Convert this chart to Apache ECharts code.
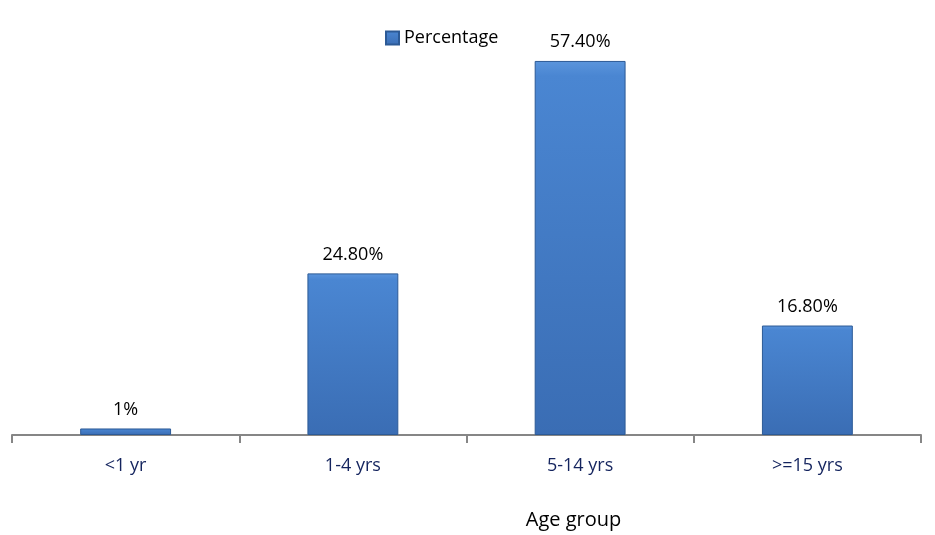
<!DOCTYPE html>
<html>
<head>
<meta charset="utf-8">
<script src="https://cdn.jsdelivr.net/npm/echarts@6/dist/echarts.min.js"></script>
<style>
  html, body { margin: 0; padding: 0; background: #fff; }
  #chart { width: 935px; height: 535px; }
</style>
</head>
<body>
<div id="chart"></div>
<script>
var categories = ['<1 yr', '1-4 yrs', '5-14 yrs', '>=15 yrs'];
var percentValues = [1, 24.8, 57.4, 16.8];
var valueLabels = ['1%', '24.80%', '57.40%', '16.80%'];

var chart = echarts.init(document.getElementById('chart'));

var barColor = new echarts.graphic.LinearGradient(0, 0, 0, 1, [
    { offset: 0, color: '#5b95dc' },
    { offset: 0.04, color: '#4a86d2' },
    { offset: 1, color: '#3a6db4' }
]);

var option = {
    backgroundColor: '#ffffff',
    textStyle: { fontFamily: 'Open Sans, Liberation Sans, sans-serif' },
    legend: {
        left: 380,
        top: 24,
        itemWidth: 13,
        itemHeight: 13,
        itemGap: 6,
        textStyle: { fontSize: 18, color: '#000' },
        data: [{ name: 'Percentage', icon: 'rect' }]
    },
    grid: {
        left: 12,
        right: 14,
        top: 44,
        bottom: 97
    },
    xAxis: {
        type: 'category',
        data: categories,
        name: 'Age group',
        nameLocation: 'middle',
        nameGap: 75,
        nameTextStyle: { fontSize: 20, color: '#000', padding: [0, 0, 0, 214] },
        axisLine: { lineStyle: { color: '#868686', width: 2 } },
        axisTick: { show: true, alignWithLabel: false, length: 8, lineStyle: { color: '#868686', width: 2 } },
        axisLabel: { fontSize: 18, color: '#14245e', margin: 22 }
    },
    yAxis: {
        type: 'value',
        min: 0,
        max: 60,
        show: false,
        splitLine: { show: false }
    },
    series: [{
        name: 'Percentage',
        type: 'bar',
        barWidth: '40%',
        data: percentValues,
        itemStyle: {
            color: barColor,
            borderColor: '#2c5a96',
            borderWidth: 1
        },
        label: {
            show: true,
            position: 'top',
            distance: 10,
            fontSize: 18,
            color: '#000',
            formatter: function (p) { return valueLabels[p.dataIndex]; }
        }
    }]
};

chart.setOption(option);
</script>
</body>
</html>
